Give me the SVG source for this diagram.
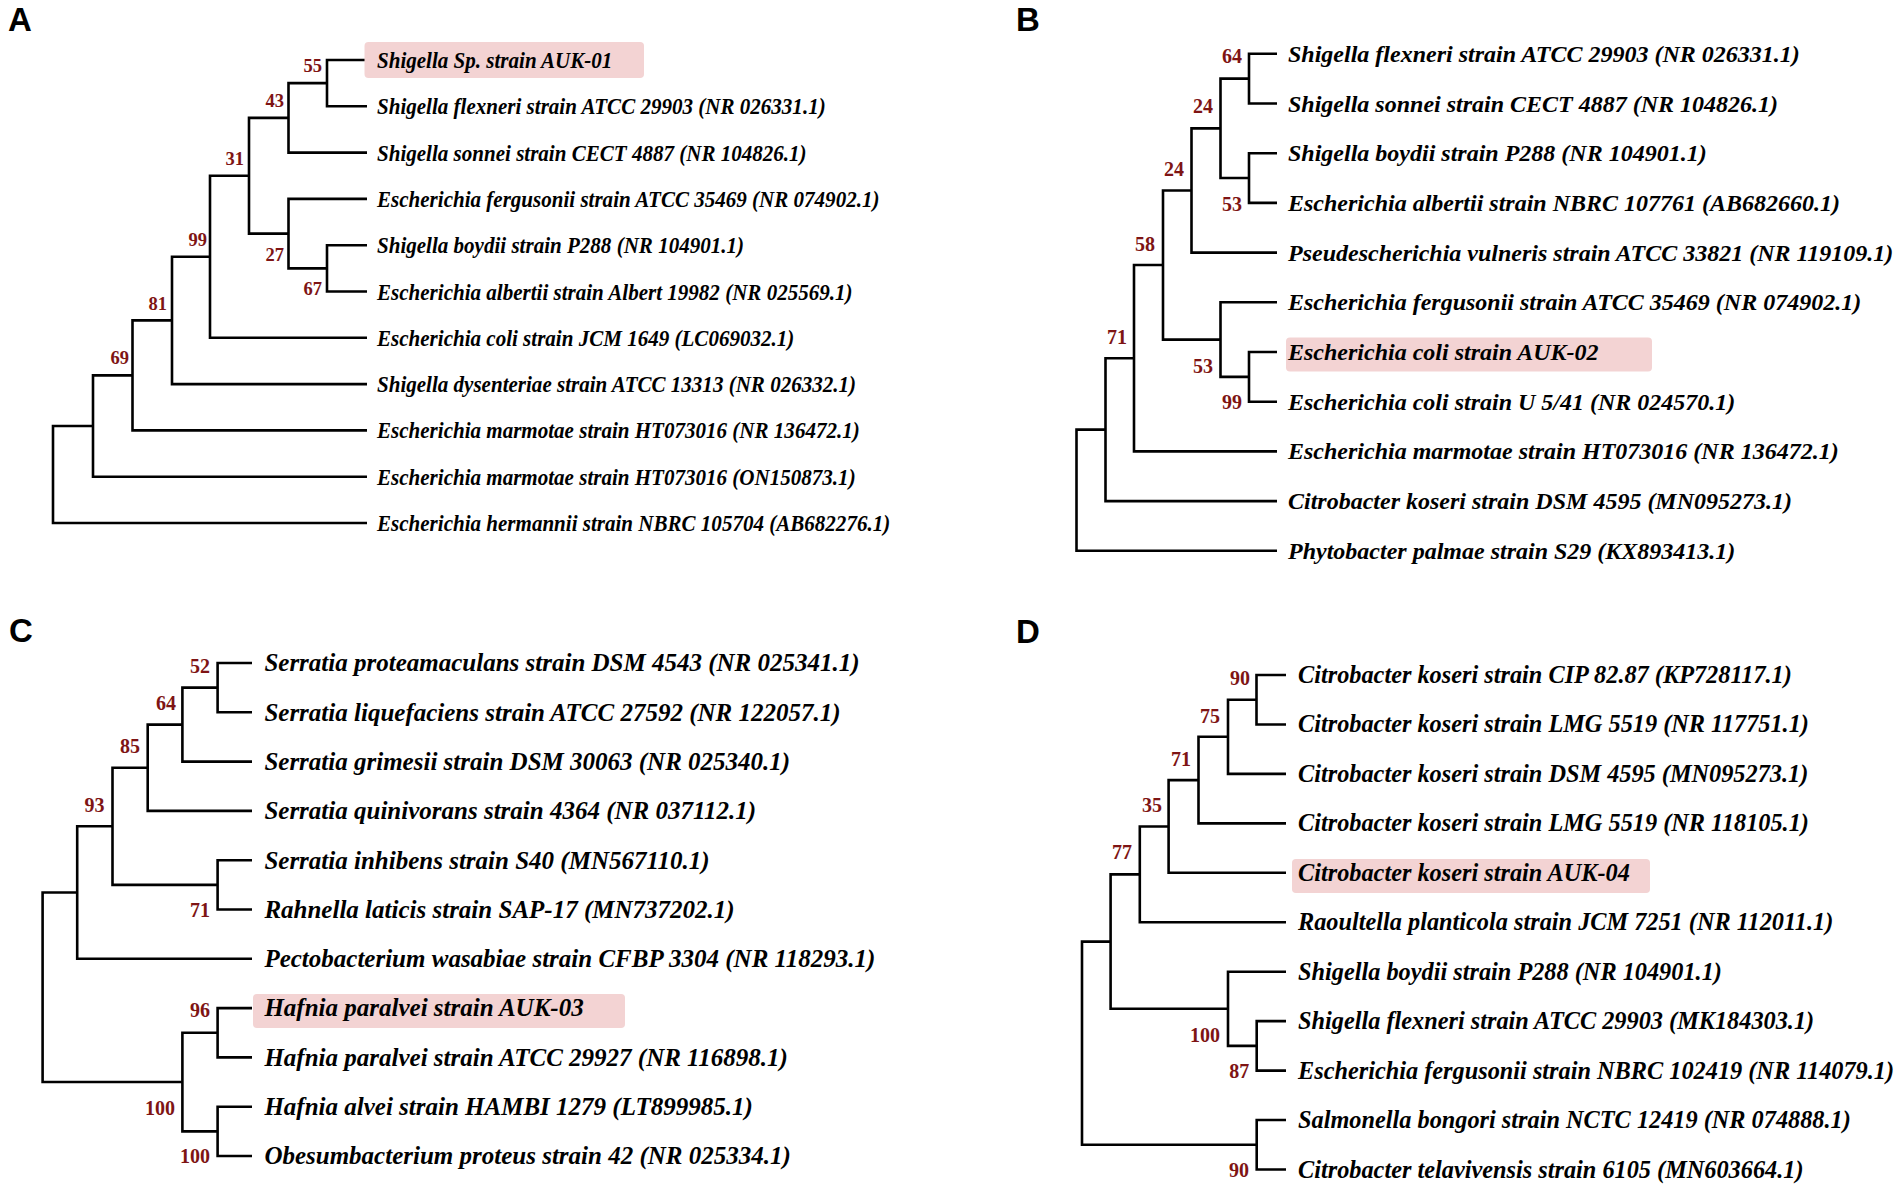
<svg xmlns="http://www.w3.org/2000/svg" width="1902" height="1190" viewBox="0 0 1902 1190">
<style>
.bg{fill:#ffffff}
.br{fill:none;stroke:#000;stroke-width:2.6;stroke-linejoin:miter;stroke-linecap:butt}
.pl{font-family:"Liberation Sans",Arial,sans-serif;font-weight:bold;font-size:33px;fill:#000}
.lf{font-family:"Liberation Serif","Times New Roman",serif;font-weight:bold;font-style:italic;fill:#000}
.la{font-size:24px}
.lb{font-size:24px}
.lc{font-size:25px}
.ld{font-size:24.3px}
.bs{font-family:"Liberation Serif","Times New Roman",serif;font-weight:bold;fill:#7e1414;text-anchor:end}
.bsa{font-size:18.5px}
.bsx{font-size:20px}
.hl{fill:#f3d3d3}
</style>
<rect class="bg" x="0" y="0" width="1902" height="1190"/>

<!-- Panel letters -->
<g id="panel-labels">
<text class="pl" x="8" y="31">A</text>
<text class="pl" x="1016" y="31">B</text>
<text class="pl" x="9" y="642">C</text>
<text class="pl" x="1016" y="643">D</text>
</g>

<!-- Connectors -->
<g id="connectors" class="br">
<!-- A -->
<path d="M367 60 H327 V106.3 H367"/>
<path d="M327 83.15 H288.5 V152.6 H367"/>
<path d="M367 245.2 H327 V291.5 H367"/>
<path d="M367 198.9 H288.5 V268.35 H327"/>
<path d="M288.5 117.9 H249 V233.6 H288.5"/>
<path d="M249 175.75 H210 V337.8 H367"/>
<path d="M210 256.8 H172 V384.1 H367"/>
<path d="M172 320.4 H132.5 V430.4 H367"/>
<path d="M132.5 375.4 H93 V476.7 H367"/>
<path d="M93 426 H53 V523 H367"/>
<!-- B -->
<path d="M1277 53.8 H1249 V103.5 H1277"/>
<path d="M1277 153.2 H1249 V202.9 H1277"/>
<path d="M1249 78.65 H1220.5 V178.05 H1249"/>
<path d="M1220.5 128.35 H1191.5 V252.6 H1277"/>
<path d="M1277 352 H1249 V401.7 H1277"/>
<path d="M1277 302.3 H1220.5 V376.85 H1249"/>
<path d="M1191.5 190.5 H1163 V339.6 H1220.5"/>
<path d="M1163 265 H1134 V451.4 H1277"/>
<path d="M1134 358.2 H1105.5 V501.1 H1277"/>
<path d="M1105.5 429.65 H1076.5 V550.8 H1277"/>
<!-- C -->
<path d="M252 663 H217.6 V712.3 H252"/>
<path d="M217.6 687.65 H182.4 V761.6 H252"/>
<path d="M182.4 724.6 H147.7 V810.9 H252"/>
<path d="M252 860.2 H217.6 V909.5 H252"/>
<path d="M147.7 767.75 H112.5 V884.85 H217.6"/>
<path d="M112.5 826.3 H77.2 V958.8 H252"/>
<path d="M252 1008.1 H217.6 V1057.4 H252"/>
<path d="M252 1106.7 H217.6 V1156 H252"/>
<path d="M217.6 1032.75 H182.4 V1131.35 H217.6"/>
<path d="M77.2 892.55 H42.6 V1082.05 H182.4"/>
<!-- D -->
<path d="M1286 675 H1256.5 V724.45 H1286"/>
<path d="M1256.5 699.7 H1228 V773.9 H1286"/>
<path d="M1228 736.8 H1198.5 V823.35 H1286"/>
<path d="M1198.5 780.1 H1168.6 V872.8 H1286"/>
<path d="M1168.6 826.45 H1139.8 V922.25 H1286"/>
<path d="M1286 1021.15 H1256.7 V1070.6 H1286"/>
<path d="M1286 971.7 H1228 V1045.9 H1256.7"/>
<path d="M1139.8 874.35 H1110.6 V1008.8 H1228"/>
<path d="M1286 1120.05 H1256.7 V1169.5 H1286"/>
<path d="M1110.6 941.6 H1082 V1144.8 H1256.7"/>
</g>

<!-- Panel A nodes -->
<g id="panel-a">
<g id="a-leaf-1"><rect class="hl" x="364.5" y="42" width="279.5" height="36" rx="4"/><text class="lf la" transform="translate(377 68) scale(0.877 1)">Shigella Sp. strain AUK-01</text></g>
<g id="a-leaf-2"><text class="lf la" transform="translate(377 114.3) scale(0.877 1)">Shigella flexneri strain ATCC 29903 (NR 026331.1)</text></g>
<g id="a-leaf-3"><text class="lf la" transform="translate(377 160.6) scale(0.877 1)">Shigella sonnei strain CECT 4887 (NR 104826.1)</text></g>
<g id="a-leaf-4"><text class="lf la" transform="translate(377 206.9) scale(0.877 1)">Escherichia fergusonii strain ATCC 35469 (NR 074902.1)</text></g>
<g id="a-leaf-5"><text class="lf la" transform="translate(377 253.2) scale(0.877 1)">Shigella boydii strain P288 (NR 104901.1)</text></g>
<g id="a-leaf-6"><text class="lf la" transform="translate(377 299.5) scale(0.877 1)">Escherichia albertii strain Albert 19982 (NR 025569.1)</text></g>
<g id="a-leaf-7"><text class="lf la" transform="translate(377 345.8) scale(0.877 1)">Escherichia coli strain JCM 1649 (LC069032.1)</text></g>
<g id="a-leaf-8"><text class="lf la" transform="translate(377 392.1) scale(0.877 1)">Shigella dysenteriae strain ATCC 13313 (NR 026332.1)</text></g>
<g id="a-leaf-9"><text class="lf la" transform="translate(377 438.4) scale(0.877 1)">Escherichia marmotae strain HT073016 (NR 136472.1)</text></g>
<g id="a-leaf-10"><text class="lf la" transform="translate(377 484.7) scale(0.877 1)">Escherichia marmotae strain HT073016 (ON150873.1)</text></g>
<g id="a-leaf-11"><text class="lf la" transform="translate(377 531) scale(0.877 1)">Escherichia hermannii strain NBRC 105704 (AB682276.1)</text></g>
<g id="a-node-55"><text class="bs bsa" x="322" y="71.7">55</text></g>
<g id="a-node-43"><text class="bs bsa" x="284" y="107">43</text></g>
<g id="a-node-31"><text class="bs bsa" x="244" y="165">31</text></g>
<g id="a-node-99"><text class="bs bsa" x="207" y="246">99</text></g>
<g id="a-node-27"><text class="bs bsa" x="284" y="261">27</text></g>
<g id="a-node-67"><text class="bs bsa" x="322" y="295">67</text></g>
<g id="a-node-81"><text class="bs bsa" x="167" y="310">81</text></g>
<g id="a-node-69"><text class="bs bsa" x="129" y="364">69</text></g>
</g>

<!-- Panel B nodes -->
<g id="panel-b">
<g id="b-leaf-1"><text class="lf lb" x="1288" y="61.8">Shigella flexneri strain ATCC 29903 (NR 026331.1)</text></g>
<g id="b-leaf-2"><text class="lf lb" x="1288" y="111.5">Shigella sonnei strain CECT 4887 (NR 104826.1)</text></g>
<g id="b-leaf-3"><text class="lf lb" x="1288" y="161.2">Shigella boydii strain P288 (NR 104901.1)</text></g>
<g id="b-leaf-4"><text class="lf lb" x="1288" y="210.9">Escherichia albertii strain NBRC 107761 (AB682660.1)</text></g>
<g id="b-leaf-5"><text class="lf lb" x="1288" y="260.6">Pseudescherichia vulneris strain ATCC 33821 (NR 119109.1)</text></g>
<g id="b-leaf-6"><text class="lf lb" x="1288" y="310.3">Escherichia fergusonii strain ATCC 35469 (NR 074902.1)</text></g>
<g id="b-leaf-7"><rect class="hl" x="1286" y="337.5" width="366" height="34" rx="4"/><text class="lf lb" x="1288" y="360">Escherichia coli strain AUK-02</text></g>
<g id="b-leaf-8"><text class="lf lb" x="1288" y="409.7">Escherichia coli strain U 5/41 (NR 024570.1)</text></g>
<g id="b-leaf-9"><text class="lf lb" x="1288" y="459.4">Escherichia marmotae strain HT073016 (NR 136472.1)</text></g>
<g id="b-leaf-10"><text class="lf lb" x="1288" y="509.1">Citrobacter koseri strain DSM 4595 (MN095273.1)</text></g>
<g id="b-leaf-11"><text class="lf lb" x="1288" y="558.8">Phytobacter palmae strain S29 (KX893413.1)</text></g>
<g id="b-node-64"><text class="bs bsx" x="1242" y="63">64</text></g>
<g id="b-node-24a"><text class="bs bsx" x="1213" y="113">24</text></g>
<g id="b-node-24b"><text class="bs bsx" x="1184" y="176">24</text></g>
<g id="b-node-53a"><text class="bs bsx" x="1242" y="211">53</text></g>
<g id="b-node-58"><text class="bs bsx" x="1155" y="251">58</text></g>
<g id="b-node-71"><text class="bs bsx" x="1127" y="344">71</text></g>
<g id="b-node-53b"><text class="bs bsx" x="1213" y="373">53</text></g>
<g id="b-node-99"><text class="bs bsx" x="1242" y="409">99</text></g>
</g>

<!-- Panel C nodes -->
<g id="panel-c">
<g id="c-leaf-1"><text class="lf lc" x="264.4" y="671.3">Serratia proteamaculans strain DSM 4543 (NR 025341.1)</text></g>
<g id="c-leaf-2"><text class="lf lc" x="264.4" y="720.6">Serratia liquefaciens strain ATCC 27592 (NR 122057.1)</text></g>
<g id="c-leaf-3"><text class="lf lc" x="264.4" y="769.9">Serratia grimesii strain DSM 30063 (NR 025340.1)</text></g>
<g id="c-leaf-4"><text class="lf lc" x="264.4" y="819.2">Serratia quinivorans strain 4364 (NR 037112.1)</text></g>
<g id="c-leaf-5"><text class="lf lc" x="264.4" y="868.5">Serratia inhibens strain S40 (MN567110.1)</text></g>
<g id="c-leaf-6"><text class="lf lc" x="264.4" y="917.8">Rahnella laticis strain SAP-17 (MN737202.1)</text></g>
<g id="c-leaf-7"><text class="lf lc" x="264.4" y="967.1">Pectobacterium wasabiae strain CFBP 3304 (NR 118293.1)</text></g>
<g id="c-leaf-8"><rect class="hl" x="253" y="994" width="372" height="34" rx="4"/><text class="lf lc" x="264.4" y="1016.4">Hafnia paralvei strain AUK-03</text></g>
<g id="c-leaf-9"><text class="lf lc" x="264.4" y="1065.7">Hafnia paralvei strain ATCC 29927 (NR 116898.1)</text></g>
<g id="c-leaf-10"><text class="lf lc" x="264.4" y="1115">Hafnia alvei strain HAMBI 1279 (LT899985.1)</text></g>
<g id="c-leaf-11"><text class="lf lc" x="264.4" y="1164.3">Obesumbacterium proteus strain 42 (NR 025334.1)</text></g>
<g id="c-node-52"><text class="bs bsx" x="210" y="673">52</text></g>
<g id="c-node-64"><text class="bs bsx" x="176" y="710">64</text></g>
<g id="c-node-85"><text class="bs bsx" x="140" y="753">85</text></g>
<g id="c-node-93"><text class="bs bsx" x="104.6" y="812">93</text></g>
<g id="c-node-71"><text class="bs bsx" x="210" y="917">71</text></g>
<g id="c-node-96"><text class="bs bsx" x="210" y="1017">96</text></g>
<g id="c-node-100a"><text class="bs bsx" x="175" y="1115">100</text></g>
<g id="c-node-100b"><text class="bs bsx" x="210" y="1163">100</text></g>
</g>

<!-- Panel D nodes -->
<g id="panel-d">
<g id="d-leaf-1"><text class="lf ld" x="1298" y="683">Citrobacter koseri strain CIP 82.87 (KP728117.1)</text></g>
<g id="d-leaf-2"><text class="lf ld" x="1298" y="732.45">Citrobacter koseri strain LMG 5519 (NR 117751.1)</text></g>
<g id="d-leaf-3"><text class="lf ld" x="1298" y="781.9">Citrobacter koseri strain DSM 4595 (MN095273.1)</text></g>
<g id="d-leaf-4"><text class="lf ld" x="1298" y="831.35">Citrobacter koseri strain LMG 5519 (NR 118105.1)</text></g>
<g id="d-leaf-5"><rect class="hl" x="1292" y="859" width="358" height="34" rx="4"/><text class="lf ld" x="1298" y="880.8">Citrobacter koseri strain AUK-04</text></g>
<g id="d-leaf-6"><text class="lf ld" x="1298" y="930.25">Raoultella planticola strain JCM 7251 (NR 112011.1)</text></g>
<g id="d-leaf-7"><text class="lf ld" x="1298" y="979.7">Shigella boydii strain P288 (NR 104901.1)</text></g>
<g id="d-leaf-8"><text class="lf ld" x="1298" y="1029.15">Shigella flexneri strain ATCC 29903 (MK184303.1)</text></g>
<g id="d-leaf-9"><text class="lf ld" x="1298" y="1078.6">Escherichia fergusonii strain NBRC 102419 (NR 114079.1)</text></g>
<g id="d-leaf-10"><text class="lf ld" x="1298" y="1128.05">Salmonella bongori strain NCTC 12419 (NR 074888.1)</text></g>
<g id="d-leaf-11"><text class="lf ld" x="1298" y="1177.5">Citrobacter telavivensis strain 6105 (MN603664.1)</text></g>
<g id="d-node-90a"><text class="bs bsx" x="1250" y="685">90</text></g>
<g id="d-node-75"><text class="bs bsx" x="1220" y="722.7">75</text></g>
<g id="d-node-71"><text class="bs bsx" x="1191" y="765.7">71</text></g>
<g id="d-node-35"><text class="bs bsx" x="1162" y="812">35</text></g>
<g id="d-node-77"><text class="bs bsx" x="1132" y="859">77</text></g>
<g id="d-node-100"><text class="bs bsx" x="1220" y="1041.7">100</text></g>
<g id="d-node-87"><text class="bs bsx" x="1249.3" y="1078">87</text></g>
<g id="d-node-90b"><text class="bs bsx" x="1249" y="1176.7">90</text></g>
</g>
</svg>
